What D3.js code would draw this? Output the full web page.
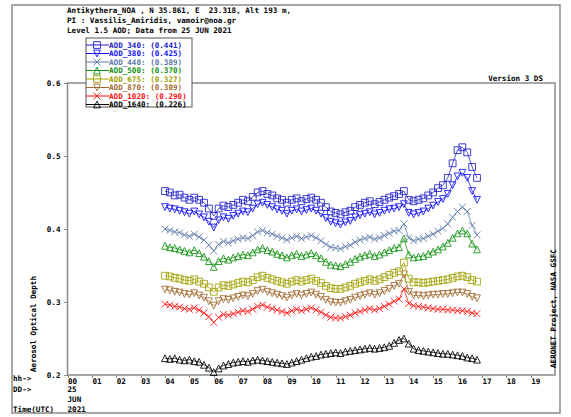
<!DOCTYPE html>
<meta charset="utf-8">
<style>
body { margin: 0; background: #fff; }
svg text {
  font-family: "DejaVu Sans Mono", "Liberation Mono", monospace;
  font-size: 7.6px;
  font-weight: bold;
}
.frame { fill: none; stroke: #8a8a8a; stroke-width: 1.5; }
.axis path, .axis line { fill: none; stroke: #8a8a8a; shape-rendering: crispEdges; }
.axis text { fill: #000; }
</style>
<body>
<script src="https://d3js.org/d3.v7.min.js"></script>
<script>

var hours = [4.0,4.2,4.4,4.6,4.8,5.0,5.2,5.4,5.6,5.8,6.0,6.2,6.4,6.6,6.8,7.0,7.2,7.4,7.6,7.8,
  8.0,8.2,8.4,8.6,8.8,9.0,9.2,9.4,9.6,9.8,10.0,10.2,10.4,10.6,10.8,11.0,11.2,11.4,11.6,11.8,
  12.0,12.2,12.4,12.6,12.8,13.0,13.2,13.4,13.6,13.8,14.0,14.2,14.4,14.6,14.8,15.0,15.2,15.4,15.6,15.8,
  16.0,16.2,16.4,16.6,16.8];

var aod340 = [0.452,0.450,0.446,0.447,0.443,0.440,0.443,0.440,0.436,0.428,0.418,0.428,0.432,0.430,0.433,0.436,0.440,0.438,0.444,0.450,
  0.452,0.448,0.446,0.442,0.440,0.436,0.440,0.442,0.438,0.441,0.443,0.440,0.436,0.430,0.424,0.422,0.420,0.423,0.425,0.430,
  0.433,0.436,0.438,0.434,0.437,0.440,0.443,0.445,0.448,0.452,0.440,0.438,0.440,0.442,0.446,0.450,0.456,0.460,0.470,0.490,
  0.508,0.512,0.505,0.485,0.470];
var aod380 = [0.430,0.428,0.427,0.425,0.423,0.421,0.424,0.420,0.416,0.410,0.402,0.412,0.416,0.414,0.418,0.421,0.424,0.423,0.428,0.434,
  0.436,0.433,0.430,0.427,0.425,0.421,0.425,0.427,0.424,0.426,0.428,0.425,0.421,0.415,0.410,0.408,0.406,0.409,0.411,0.416,
  0.419,0.421,0.423,0.420,0.422,0.425,0.427,0.428,0.430,0.434,0.422,0.420,0.422,0.424,0.428,0.432,0.437,0.441,0.448,0.460,
  0.472,0.477,0.470,0.452,0.440];
var aod440 = [0.400,0.398,0.396,0.395,0.392,0.390,0.393,0.389,0.385,0.378,0.370,0.379,0.383,0.381,0.384,0.386,0.388,0.387,0.391,0.396,
  0.398,0.395,0.393,0.390,0.388,0.385,0.388,0.390,0.387,0.389,0.391,0.388,0.384,0.379,0.375,0.374,0.373,0.376,0.378,0.382,
  0.385,0.387,0.389,0.386,0.388,0.391,0.394,0.397,0.398,0.407,0.388,0.384,0.386,0.387,0.390,0.393,0.397,0.401,0.407,0.416,
  0.424,0.430,0.424,0.405,0.392];
var aod500 = [0.377,0.375,0.374,0.372,0.370,0.368,0.371,0.367,0.362,0.356,0.348,0.356,0.360,0.358,0.361,0.363,0.365,0.364,0.368,0.372,
  0.374,0.371,0.369,0.366,0.364,0.361,0.364,0.366,0.363,0.365,0.367,0.364,0.360,0.355,0.351,0.350,0.349,0.352,0.355,0.359,
  0.362,0.364,0.366,0.363,0.365,0.368,0.371,0.374,0.375,0.387,0.365,0.361,0.362,0.363,0.366,0.369,0.372,0.376,0.381,0.388,
  0.394,0.398,0.394,0.380,0.372];
var aod675 = [0.336,0.335,0.333,0.332,0.330,0.329,0.331,0.328,0.325,0.320,0.314,0.320,0.323,0.322,0.324,0.326,0.328,0.327,0.330,0.334,
  0.336,0.333,0.331,0.329,0.327,0.325,0.328,0.330,0.328,0.330,0.332,0.329,0.326,0.322,0.319,0.318,0.318,0.320,0.322,0.325,
  0.327,0.329,0.331,0.329,0.331,0.334,0.337,0.340,0.342,0.354,0.332,0.327,0.327,0.326,0.327,0.328,0.329,0.330,0.331,0.333,
  0.335,0.336,0.334,0.330,0.328];
var aod870 = [0.317,0.316,0.314,0.313,0.311,0.310,0.312,0.309,0.306,0.301,0.295,0.301,0.304,0.303,0.305,0.307,0.309,0.308,0.311,0.315,
  0.317,0.314,0.312,0.310,0.308,0.306,0.309,0.311,0.309,0.311,0.313,0.310,0.307,0.303,0.300,0.299,0.299,0.301,0.303,0.306,
  0.308,0.310,0.312,0.310,0.312,0.315,0.318,0.322,0.325,0.338,0.314,0.309,0.309,0.308,0.309,0.310,0.310,0.311,0.311,0.312,
  0.313,0.313,0.311,0.307,0.305];
var aod1020 = [0.297,0.296,0.294,0.293,0.291,0.290,0.292,0.289,0.285,0.280,0.272,0.279,0.283,0.282,0.284,0.286,0.288,0.287,0.290,0.294,
  0.296,0.293,0.291,0.289,0.287,0.285,0.288,0.290,0.288,0.290,0.292,0.289,0.286,0.282,0.279,0.278,0.278,0.280,0.282,0.285,
  0.287,0.289,0.291,0.289,0.291,0.294,0.297,0.301,0.304,0.318,0.298,0.295,0.294,0.293,0.292,0.291,0.290,0.290,0.289,0.289,
  0.288,0.288,0.287,0.285,0.284];
var aod1640 = [0.223,0.222,0.223,0.221,0.220,0.221,0.219,0.218,0.214,0.210,0.204,0.209,0.213,0.215,0.217,0.218,0.219,0.218,0.220,0.221,
  0.220,0.219,0.218,0.217,0.216,0.215,0.217,0.219,0.221,0.223,0.225,0.226,0.228,0.229,0.230,0.231,0.230,0.232,0.233,0.234,
  0.235,0.236,0.237,0.236,0.237,0.238,0.240,0.244,0.248,0.250,0.243,0.236,0.234,0.233,0.232,0.231,0.230,0.229,0.229,0.228,
  0.227,0.226,0.224,0.223,0.221];

var seriesNames = ["AOD_340","AOD_380","AOD_440","AOD_500","AOD_675","AOD_870","AOD_1020","AOD_1640"];
var seriesMeans = ["0.441","0.425","0.389","0.370","0.327","0.309","0.290","0.226"];
var seriesColors = ["#2020c8","#1010ff","#5a78a8","#109010","#a0a000","#a06a30","#ff1010","#000000"];
var seriesMarkers = ["square","down","cross","up","square","down","cross","up"];
var seriesValues = [aod340,aod380,aod440,aod500,aod675,aod870,aod1020,aod1640];

var hourLabels = ["00","01","02","03","04","05","06","07","08","09","10","11","12","13","14","15","16","17","18","19"];
var yTicks = [0.2,0.3,0.4,0.5,0.6];

var W = 571, H = 417;
var svg = d3.select("body").append("svg").attr("width", W).attr("height", H);

// outer frame
svg.append("rect").attr("class","frame").attr("x",12).attr("y",5).attr("width",548).attr("height",408);

var x = d3.scaleLinear().domain([0,20]).range([67.5,555]);
var y = d3.scaleLinear().domain([0.2,0.6]).range([375,83]);

// plot frame
svg.append("rect").attr("class","frame")
  .attr("x", x(0)).attr("y", y(0.6))
  .attr("width", x(20)-x(0)).attr("height", y(0.2)-y(0.6));

// y axis
var yAxis = svg.append("g").attr("class","axis")
  .attr("transform","translate(" + x(0) + ",0)")
  .call(d3.axisLeft(y).tickValues(yTicks).tickFormat(d3.format(".1f")).tickSize(4).tickSizeOuter(0));
yAxis.select(".domain").remove();
yAxis.selectAll("text").attr("x",-7).attr("dy","0.3em");

// x axis
var xAxis = svg.append("g").attr("class","axis")
  .attr("transform","translate(0," + y(0.2) + ")")
  .call(d3.axisBottom(x).tickValues(d3.range(hourLabels.length)).tickFormat(function(d){ return hourLabels[d]; }).tickSize(3).tickSizeOuter(0));
xAxis.select(".domain").remove();
xAxis.selectAll("text").attr("text-anchor","start").attr("x",0).attr("y",4).attr("dy","0.71em");

// left labels
var leftLabels = [["hh->",378],["DD->",389],["Time(UTC)",409]];
svg.selectAll(".leftlab").data(leftLabels).enter().append("text")
  .attr("x",13).attr("y",function(d){return d[1]+3;}).text(function(d){return d[0];});
var dateLabels = [["25",389],["JUN",399],["2021",409]];
svg.selectAll(".datelab").data(dateLabels).enter().append("text")
  .attr("x",x(0)).attr("y",function(d){return d[1]+3;}).text(function(d){return d[0];});

// header
var header = ["Antikythera_NOA , N 35.861, E  23.318, Alt 193 m,",
  "PI : Vassilis_Amiridis, vamoir@noa.gr",
  "Level 1.5 AOD; Data from 25 JUN 2021"];
svg.selectAll(".hdr").data(header).enter().append("text")
  .attr("x",67).attr("y",function(d,i){return 13 + i*10;})
  .style("white-space","pre").attr("xml:space","preserve")
  .text(function(d){return d;});

svg.append("text").attr("x",543).attr("y",81).attr("text-anchor","end").text("Version 3 DS");

svg.append("text").attr("transform","translate(36,372) rotate(-90)").text("Aerosol Optical Depth");
svg.append("text").attr("transform","translate(556,368) rotate(-90)").text("AERONET Project, NASA GSFC");

function markerPath(type, cx, cy) {
  var s = 3.4;
  if (type === "square") return "M"+(cx-s)+","+(cy-s)+"h"+(2*s)+"v"+(2*s)+"h"+(-2*s)+"Z";
  if (type === "down") return "M"+(cx-s)+","+(cy-s)+"L"+(cx+s)+","+(cy-s)+"L"+cx+","+(cy+s)+"Z";
  if (type === "up") return "M"+(cx-s)+","+(cy+s)+"L"+(cx+s)+","+(cy+s)+"L"+cx+","+(cy-s)+"Z";
  return "M"+(cx-s)+","+(cy-s)+"L"+(cx+s)+","+(cy+s)+"M"+(cx+s)+","+(cy-s)+"L"+(cx-s)+","+(cy+s);
}

var line = d3.line().x(function(d){return x(d[0]);}).y(function(d){return y(d[1]);});

// draw series, longest wavelength first so 340 ends on top
for (var k = seriesNames.length - 1; k >= 0; k--) {
  var pts = hours.map(function(h,i){ return [h, seriesValues[k][i]]; });
  var g = svg.append("g");
  g.append("path").datum(pts).attr("d", line)
    .attr("fill","none").attr("stroke", seriesColors[k]).attr("stroke-width",0.9).attr("opacity",0.85);
  g.selectAll("path.m").data(pts).enter().append("path").attr("class","m")
    .attr("d", function(d){ return markerPath(seriesMarkers[k], x(d[0]), y(d[1])); })
    .attr("fill","none").attr("stroke", seriesColors[k]).attr("stroke-width",1).attr("opacity",0.85);
}

// legend
var lg = svg.append("g");
lg.append("rect").attr("x",86).attr("y",38).attr("width",106).attr("height",69)
  .attr("fill","#fff").attr("stroke","#555").attr("stroke-width",1);
seriesNames.forEach(function(name,i){
  var ly = 45 + i*8.5;
  lg.append("line").attr("x1",86).attr("x2",109).attr("y1",ly).attr("y2",ly)
    .attr("stroke",seriesColors[i]).attr("stroke-width",1);
  lg.append("path").attr("d", markerPath(seriesMarkers[i], 97, ly))
    .attr("fill","none").attr("stroke",seriesColors[i]).attr("stroke-width",0.9);
  lg.append("text").attr("x",109).attr("y",ly+2.7).attr("fill",seriesColors[i])
    .text(name + ": (" + seriesMeans[i] + ")");
});

</script>
</body>
